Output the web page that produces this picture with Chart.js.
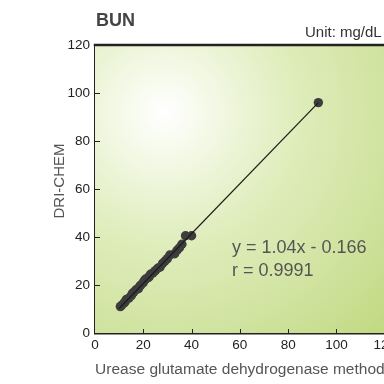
<!DOCTYPE html>
<html>
<head>
<meta charset="utf-8">
<script src="https://cdn.jsdelivr.net/npm/chart.js@4"></script>
<style>
  html, body { margin: 0; padding: 0; background: #fff; overflow: hidden; }
  #wrap { width: 400px; height: 384px; }
</style>
</head>
<body>
<div id="wrap"><canvas id="chart" width="400" height="384"></canvas></div>
<script>
// comparison data (mg/dL)
const refValues = [10.5, 11, 12, 12.5, 13, 14, 15, 15.5, 16, 17, 18, 18.5, 19, 20, 20.5, 21, 22, 22.5, 23, 24, 25, 26, 27, 28, 29, 30, 31, 33, 34, 35, 36, 37.5, 40, 92.5];
const driValues = [11, 11.5, 12.5, 13, 14, 14.5, 15.5, 16.5, 17, 18, 18.5, 19.5, 20, 21, 22, 22.5, 23, 23.5, 24.5, 25, 26, 27, 27.5, 29, 30, 31, 32.5, 33, 34.5, 35.5, 37, 40.5, 40.5, 96];
const fitX = [10, 92.5];
const fitY = [10.2, 96.0];
const xTicks = [0, 20, 40, 60, 80, 100, 120];
const yTicks = [0, 20, 40, 60, 80, 100, 120];
const equationText = 'y = 1.04x - 0.166';
const rText = 'r = 0.9991';

const FONT = '"Liberation Sans", Arial, Helvetica, sans-serif';

const points = refValues.map((x, i) => ({x: x, y: driValues[i]}));
const fitLine = fitX.map((x, i) => ({x: x, y: fitY[i]}));

const decor = {
  id: 'decor',
  beforeDatasetsDraw(chart) {
    const {ctx, chartArea: a} = chart;
    const g = ctx.createRadialGradient(164, 113, 0, 164, 113, 320);
    g.addColorStop(0, '#ffffff');
    g.addColorStop(0.12, '#f6faeb');
    g.addColorStop(0.4, '#e0edbd');
    g.addColorStop(0.75, '#cde19a');
    g.addColorStop(1, '#c0d87e');
    ctx.save();
    ctx.fillStyle = g;
    ctx.fillRect(a.left, a.top, a.right - a.left, a.bottom - a.top);
    ctx.restore();
  },
  afterDraw(chart) {
    const {ctx, chartArea: a, scales} = chart;
    ctx.save();
    // top frame line
    ctx.strokeStyle = '#222';
    ctx.lineWidth = 2.5;
    ctx.beginPath();
    ctx.moveTo(a.left - 1.25, a.top);
    ctx.lineTo(a.right + 20, a.top);
    ctx.stroke();
    // inner ticks
    ctx.lineWidth = 1;
    xTicks.slice(1).forEach(v => {
      const px = Math.round(scales.x.getPixelForValue(v)) + 0.5;
      ctx.beginPath();
      ctx.moveTo(px, a.bottom);
      ctx.lineTo(px, a.bottom - 4);
      ctx.stroke();
    });
    yTicks.slice(1, -1).forEach(v => {
      const py = Math.round(scales.y.getPixelForValue(v)) + 0.5;
      ctx.beginPath();
      ctx.moveTo(a.left, py);
      ctx.lineTo(a.left + 5, py);
      ctx.stroke();
    });
    // titles
    ctx.fillStyle = '#444';
    ctx.font = 'bold 18px ' + FONT;
    ctx.textBaseline = 'alphabetic';
    ctx.textAlign = 'left';
    ctx.fillText('BUN', 96, 26);
    ctx.fillStyle = '#333';
    ctx.font = '15px ' + FONT;
    ctx.fillText('Unit: mg/dL', 305, 37);
    // regression text
    ctx.fillStyle = '#555';
    ctx.font = '18px ' + FONT;
    ctx.fillText(equationText, 232, 253);
    ctx.fillText(rText, 232, 276);
    // y axis title
    ctx.translate(60, 181);
    ctx.rotate(-Math.PI / 2);
    ctx.textAlign = 'center';
    ctx.textBaseline = 'middle';
    ctx.font = '15px ' + FONT;
    ctx.fillText('DRI-CHEM', 0, 0);
    ctx.restore();
  }
};

new Chart(document.getElementById('chart'), {
  type: 'scatter',
  data: {
    datasets: [
      {
        type: 'line',
        data: fitLine,
        borderColor: '#1a1a1a',
        borderWidth: 1.2,
        pointRadius: 0,
        fill: false,
        order: 0
      },
      {
        data: points,
        backgroundColor: '#3d3d3d',
        borderWidth: 0,
        pointRadius: 4.7,
        order: 1
      }
    ]
  },
  options: {
    responsive: false,
    animation: false,
    layout: { padding: { top: 45, right: 13, left: 0, bottom: 0 } },
    plugins: {
      legend: { display: false },
      tooltip: { enabled: false }
    },
    scales: {
      x: {
        type: 'linear',
        min: 0,
        max: 120,
        afterBuildTicks: s => { s.ticks = xTicks.map(v => ({value: v})); },
        afterFit: s => { s.height = 51; },
        ticks: { color: '#222', font: { family: FONT, size: 13.5 }, padding: 4, maxRotation: 0 },
        grid: { display: true, drawOnChartArea: false, drawTicks: false },
        border: { display: true, color: '#222', width: 2.5 },
        title: {
          display: true,
          text: 'Urease glutamate dehydrogenase method',
          color: '#555',
          font: { family: FONT, size: 15.5 },
          padding: { top: 0, bottom: 5 }
        }
      },
      y: {
        type: 'linear',
        min: 0,
        max: 120,
        afterBuildTicks: s => { s.ticks = yTicks.map(v => ({value: v})); },
        afterFit: s => { s.width = 95; },
        ticks: { color: '#222', font: { family: FONT, size: 13.5 }, padding: 5 },
        grid: { display: true, drawOnChartArea: false, drawTicks: false },
        border: { display: true, color: '#222', width: 2.5 }
      }
    }
  },
  plugins: [decor]
});
</script>
</body>
</html>
